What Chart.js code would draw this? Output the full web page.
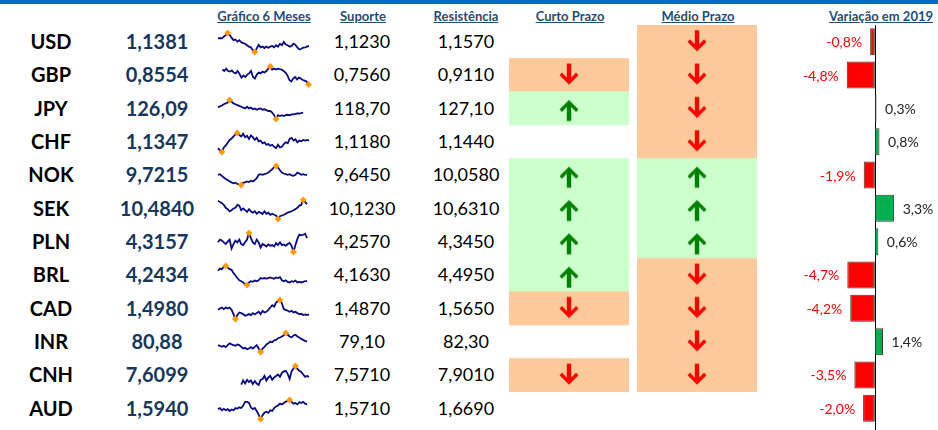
<!DOCTYPE html>
<html>
<head>
<meta charset="utf-8">
<title>Moedas - Suporte e Resistência</title>
<script src="https://cdn.jsdelivr.net/npm/chart.js"></script>
<style>
  html, body { margin: 0; padding: 0; background: #fff; }
  body { width: 938px; height: 430px; position: relative; overflow: hidden; font-family: Lato, "Open Sans", sans-serif; }
  .topbar { position: absolute; left: 0; top: 0; width: 938px; height: 4px; background: #0a68c9; }
  .hdr { position: absolute; top: 8px; font-size: 13px; line-height: 16px; font-weight: bold; color: #1f4e79; text-decoration: underline; transform: translateX(-50%); white-space: nowrap; }
  .cell { position: absolute; transform: translateX(-50%); white-space: nowrap; }
  .code { font-size: 20px; font-weight: bold; color: #000; }
  .last { font-size: 20px; font-weight: bold; color: #17375e; }
  .lvl { font-size: 18px; color: #000; }
  canvas { position: absolute; }
</style>
</head>
<body>
<div class="topbar"></div>
<div id="sheet"></div>
<script>
  // table data
  const currencies = ['USD', 'GBP', 'JPY', 'CHF', 'NOK', 'SEK', 'PLN', 'BRL', 'CAD', 'INR', 'CNH', 'AUD'];
  const lastPrice = [1.1381, 0.8554, 126.09, 1.1347, 9.7215, 10.4840, 4.3157, 4.2434, 1.4980, 80.88, 7.6099, 1.5940];
  const decimals = [4, 4, 2, 4, 4, 4, 4, 4, 4, 2, 4, 4];
  const support = [1.1230, 0.7560, 118.70, 1.1180, 9.6450, 10.1230, 4.2570, 4.1630, 1.4870, 79.10, 7.5710, 1.5710];
  const resistance = [1.1570, 0.9110, 127.10, 1.1440, 10.0580, 10.6310, 4.3450, 4.4950, 1.5650, 82.30, 7.9010, 1.6690];
  // 1 = alta, -1 = baixa, 0 = sem sinal
  const shortTerm = [0, -1, 1, 0, 1, 1, 1, 1, -1, 0, -1, 0];
  const mediumTerm = [-1, -1, -1, -1, 1, 1, 1, -1, -1, -1, -1, 0];
  const change2019 = [-0.8, -4.8, 0.3, 0.8, -1.9, 3.3, 0.6, -4.7, -4.2, 1.4, -3.5, -2.0];
  const headers = ['Gráfico 6 Meses', 'Suporte', 'Resistência', 'Curto Prazo', 'Médio Prazo', 'Variação em 2019'];

  // 6 month sparklines (relative levels)
  const sparkUSD = [43,44,43,48,52,58,53,45,38,40,34,38,32,30,28,24,20,18,10,5,15,25,18,20,16,20,17,20,22,18,24,20,28,24,33,26,24,20,22,28,25,18,12,14,17,18,20,22];
  const sparkGBP = [null,null,55,50,58,50,48,52,45,42,50,40,28,35,30,38,42,50,30,25,38,45,42,48,45,50,58,65,55,58,55,58,56,55,50,45,35,20,15,25,30,22,28,25,20,18,15,5];
  const sparkJPY = [50,53,55,58,60,62,68,64,60,58,56,54,52,50,48,52,48,50,46,48,45,47,48,45,46,44,42,42,38,32,23,32,30,32,30,32,33,32,34,34,35,36,36,37,38];
  const sparkCHF = [28,22,17,30,36,44,52,56,62,68,72,66,62,70,60,64,55,65,60,52,58,48,50,42,45,38,40,35,38,32,28,38,30,32,40,45,42,55,58,50,54,45,50,48,52,50,52,50];
  const sparkNOK = [48,50,45,40,35,32,28,25,22,24,20,18,17,24,25,28,26,30,28,32,38,48,50,48,50,52,55,60,65,72,75,70,62,55,52,50,48,50,46,45,48,55,52,48,50,48,48];
  const sparkSEK = [62,58,55,50,42,38,32,35,40,42,50,48,35,40,35,30,38,32,28,32,25,30,28,24,32,25,28,22,25,22,20,10,18,20,22,25,28,30,32,35,38,42,48,50,64,58,52];
  const sparkPLN = [30,38,35,30,25,32,38,12,25,35,30,38,25,22,30,38,57,42,30,25,38,30,15,25,22,18,24,20,22,18,28,22,30,22,24,20,25,28,20,2,22,40,52,50,52,55,42];
  const sparkBRL = [55,62,60,68,70,65,60,58,48,40,32,25,22,18,12,10,18,22,20,24,22,25,32,30,32,30,32,34,32,30,34,32,35,25,22,25,20,18,22,20,24,18,20,18,20,22,22];
  const sparkCAD = [38,42,45,40,45,42,45,38,25,10,22,30,28,25,20,22,25,22,28,24,28,32,25,35,30,32,38,45,52,48,60,65,68,58,40,38,35,32,35,30,32,28,25,26,22,24,22,24];
  const sparkINR = [30,28,25,28,24,30,35,32,30,28,32,30,25,20,22,18,20,24,20,25,30,20,10,20,25,32,35,40,38,44,45,50,52,55,58,65,60,55,52,58,60,55,52,48,45,42,40];
  const sparkCNH = [null,null,null,null,null,null,null,null,null,null,null,null,16,30,20,32,25,30,18,28,20,15,32,35,45,30,40,45,32,40,45,50,42,55,60,62,52,35,60,70,78,68,62,58,50,42,45,42];
  const sparkAUD = [35,38,32,36,32,35,30,34,32,38,36,40,38,45,55,55,52,40,35,38,30,20,8,18,25,28,25,32,30,38,42,45,50,48,52,55,58,60,55,50,52,48,54,52,55,50,48];
  const sparks = [sparkUSD, sparkGBP, sparkJPY, sparkCHF, sparkNOK, sparkSEK, sparkPLN, sparkBRL, sparkCAD, sparkINR, sparkCNH, sparkAUD];
  const noLowMarker = ['CNH'];

  const ROW_TOP = 25, ROW_H = 33.33;
  const sheet = document.getElementById('sheet');
  const fmt = (v, d) => v.toFixed(d).replace('.', ',');

  Chart.defaults.font.family = 'Lato';

  function addDiv(cls, text, x, y, h) {
    const d = document.createElement('div');
    d.className = cls;
    d.textContent = text;
    d.style.left = x + 'px';
    d.style.top = y + 'px';
    if (h) { d.style.height = h + 'px'; d.style.lineHeight = h + 'px'; }
    sheet.appendChild(d);
    return d;
  }

  function addCanvas(x, y, w, h) {
    const c = document.createElement('canvas');
    c.width = w; c.height = h;
    c.style.left = x + 'px'; c.style.top = y + 'px';
    c.style.width = w + 'px'; c.style.height = h + 'px';
    sheet.appendChild(c);
    return c;
  }

  // headers
  const hdrX = [264, 363, 466, 570, 698, 881];
  headers.forEach((t, i) => addDiv('hdr', t, hdrX[i], 8));

  // text columns
  currencies.forEach((c, i) => {
    const top = ROW_TOP + i * ROW_H;
    addDiv('cell code', c, 51, top, ROW_H);
    addDiv('cell last', fmt(lastPrice[i], decimals[i]), 157, top, ROW_H);
    addDiv('cell lvl', fmt(support[i], decimals[i]), 362, top, ROW_H);
    addDiv('cell lvl', fmt(resistance[i], decimals[i]), 466, top, ROW_H);
  });

  // sparklines
  const sparkLabels = sparkUSD.map((_, i) => i);
  sparks.forEach((vals, i) => {
    const top = ROW_TOP + i * ROW_H;
    const nums = vals.filter(v => v !== null);
    const hi = Math.max(...nums), lo = Math.min(...nums);
    const hiIdx = vals.indexOf(hi), loIdx = vals.indexOf(lo);
    const marks = noLowMarker.includes(currencies[i]) ? [hiIdx] : [hiIdx, loIdx];
    new Chart(addCanvas(214, top + 4, 99, 27), {
      type: 'line',
      data: {
        labels: sparkLabels,
        datasets: [{
          data: vals,
          borderColor: '#0b0b86',
          borderWidth: 1.8,
          tension: 0,
          clip: false,
          pointStyle: 'rectRot',
          pointRadius: ctx => marks.includes(ctx.dataIndex) ? 3.2 : 0,
          pointBackgroundColor: '#ff9a00',
          pointBorderColor: '#ff9a00',
          pointBorderWidth: 0.5
        }]
      },
      options: {
        responsive: false, animation: false, events: [],
        layout: { padding: { top: 4, bottom: 4, left: 4, right: 4 } },
        plugins: { legend: { display: false }, tooltip: { enabled: false } },
        scales: { x: { display: false }, y: { display: false, min: lo, max: hi } }
      }
    });
  });

  // signal columns (coloured cells + arrows)
  const arrowPlugin = {
    id: 'arrows',
    afterDatasetsDraw(chart) {
      const sig = chart.config.options.signal;
      const ctx = chart.ctx;
      chart.getDatasetMeta(0).data.forEach((el, i) => {
        if (!sig[i]) return;
        const cx = chart.scales.x.getPixelForValue(0.5);
        const cy = el.y + (sig[i] > 0 ? 2 : -1);
        const s = sig[i] > 0 ? -1 : 1;
        ctx.save();
        ctx.fillStyle = sig[i] > 0 ? '#008000' : '#ff0000';
        ctx.beginPath();
        const pts = [[-2.2,-10.5],[2.2,-10.5],[2.2,3.5],[7,-1.5],[9.5,1],[0,10.5],[-9.5,1],[-7,-1.5],[-2.2,3.5]];
        pts.forEach(([px, py], k) => {
          const X = cx + px, Y = cy + s * py;
          if (k === 0) ctx.moveTo(X, Y); else ctx.lineTo(X, Y);
        });
        ctx.closePath();
        ctx.fill();
        ctx.restore();
      });
    }
  };

  function signalChart(x, sig) {
    new Chart(addCanvas(x, ROW_TOP, 120, 12 * ROW_H), {
      type: 'bar',
      data: {
        labels: currencies,
        datasets: [{
          data: sig.map(s => s ? [0, 1] : null),
          backgroundColor: sig.map(s => s > 0 ? '#ccffcc' : '#fcca9a'),
          borderWidth: 0,
          categoryPercentage: 1,
          barPercentage: 1
        }]
      },
      options: {
        signal: sig,
        indexAxis: 'y', responsive: false, animation: false, events: [],
        layout: { padding: 0 },
        plugins: { legend: { display: false }, tooltip: { enabled: false } },
        scales: { x: { display: false, min: 0, max: 1 }, y: { display: false } }
      },
      plugins: [arrowPlugin]
    });
  }
  signalChart(509, shortTerm);
  signalChart(637, mediumTerm);

  // variação em 2019
  const varPlugin = {
    id: 'varLabels',
    beforeDatasetsDraw(chart) {
      // vertical axis at zero, under the bars so the thin ones still show
      const ctx = chart.ctx;
      const x0 = Math.round(chart.scales.x.getPixelForValue(0)) + 0.5;
      ctx.save();
      ctx.strokeStyle = '#000';
      ctx.lineWidth = 1;
      ctx.beginPath();
      ctx.moveTo(x0, 0);
      ctx.lineTo(x0, chart.height);
      ctx.stroke();
      ctx.restore();
    },
    afterDatasetsDraw(chart) {
      const ctx = chart.ctx;
      ctx.save();
      ctx.font = '14px Lato';
      ctx.textBaseline = 'middle';
      chart.getDatasetMeta(0).data.forEach((el, i) => {
        const v = change2019[i];
        const txt = fmt(v, 1) + '%';
        if (v < 0) {
          ctx.fillStyle = '#ff0000';
          ctx.textAlign = 'right';
          ctx.fillText(txt, el.x - 8, el.y + 1);
        } else {
          ctx.fillStyle = '#222';
          ctx.textAlign = 'left';
          ctx.fillText(txt, el.x + 8.5, el.y + 1);
        }
      });
      ctx.restore();
    }
  };

  new Chart(addCanvas(790, ROW_TOP, 148, 430 - ROW_TOP), {
    type: 'bar',
    data: {
      labels: currencies,
      datasets: [{
        data: change2019,
        backgroundColor: change2019.map(v => v < 0 ? '#ff0000' : '#00b050'),
        borderColor: '#3a3a3a',
        borderWidth: 1,
        borderSkipped: false,
        categoryPercentage: 1,
        barPercentage: 0.81
      }]
    },
    options: {
      indexAxis: 'y', responsive: false, animation: false, events: [],
      layout: { padding: { bottom: 430 - ROW_TOP - 12 * ROW_H } },
      plugins: { legend: { display: false }, tooltip: { enabled: false } },
      scales: { x: { display: false, min: -14.5, max: 10.8 }, y: { display: false } }
    },
    plugins: [varPlugin]
  });
</script>
</body>
</html>
